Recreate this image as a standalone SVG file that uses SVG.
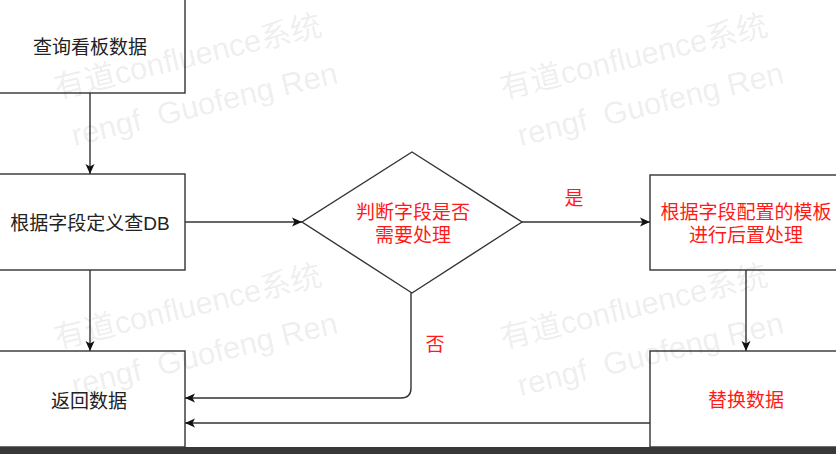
<svg xmlns="http://www.w3.org/2000/svg" width="836" height="454" viewBox="0 0 836 454">
<style>
.box{fill:#fff;stroke:#333;stroke-width:1.4}
.lbl{font-family:"Liberation Sans","Noto Sans CJK SC",sans-serif;font-size:19px;text-anchor:middle;dominant-baseline:central}
.blk{fill:#222}
.red{fill:#ff1a1a}
.edge{fill:none;stroke:#333;stroke-width:1.4}
.wm{font-family:"Liberation Sans","Noto Sans CJK SC",sans-serif;font-size:31px;fill:#000;fill-opacity:0.085;white-space:pre}
</style>
<defs>
<marker id="ah" markerUnits="userSpaceOnUse" markerWidth="12" markerHeight="10" refX="11" refY="5" orient="auto">
<path d="M1,0.5 L11,5 L1,9.5 L3.5,5 Z" fill="#111"/>
</marker>
<g id="wmtile">
<text class="wm" x="0" y="0">有道confluence系统</text>
<text class="wm" x="6" y="50" xml:space="preserve">rengf  Guofeng Ren</text>
</g>
</defs>
<rect width="836" height="454" fill="#fff"/>
<g id="connectors">
<path class="edge" d="M90,93 L90,174" marker-end="url(#ah)"/>
<path class="edge" d="M90,270 L90,351" marker-end="url(#ah)"/>
<path class="edge" d="M185,222 L302,222" marker-end="url(#ah)"/>
<path class="edge" d="M522,222 L650,222" marker-end="url(#ah)"/>
<path class="edge" d="M746,270 L746,351" marker-end="url(#ah)"/>
<path class="edge" d="M411,293 L411,388 Q411,398 401,398 L185,398" marker-end="url(#ah)"/>
<path class="edge" d="M650,423 L185,423" marker-end="url(#ah)"/>
<text class="lbl red" x="574" y="198">是</text>
<text class="lbl red" x="435" y="344">否</text>
</g>
<g id="n1">
<rect class="box" x="-5" y="-3" width="190" height="96"/>
<text class="lbl blk" x="90" y="47">查询看板数据</text>
</g>
<g id="n2">
<rect class="box" x="-5" y="174" width="190" height="96"/>
<text class="lbl blk" x="90" y="223">根据字段定义查DB</text>
</g>
<g id="n3">
<polygon class="box" points="412,152 522,222 412,293 302,222"/>
<text class="lbl red" x="413" y="212">判断字段是否</text>
<text class="lbl red" x="413" y="235">需要处理</text>
</g>
<g id="n4">
<rect class="box" x="650" y="175" width="192" height="95"/>
<text class="lbl red" x="746" y="212">根据字段配置的模板</text>
<text class="lbl red" x="746" y="235">进行后置处理</text>
</g>
<g id="n5">
<rect class="box" x="-5" y="351" width="190" height="96"/>
<text class="lbl blk" x="89" y="401">返回数据</text>
</g>
<g id="n6">
<rect class="box" x="650" y="351" width="192" height="96"/>
<text class="lbl red" x="746" y="400">替换数据</text>
</g>
<g id="watermark">
<use href="#wmtile" transform="translate(57,99) rotate(-13.5)"/>
<use href="#wmtile" transform="translate(503,99) rotate(-13.5)"/>
<use href="#wmtile" transform="translate(57,349) rotate(-13.5)"/>
<use href="#wmtile" transform="translate(503,349) rotate(-13.5)"/>
</g>
<rect x="0" y="447" width="836" height="7" fill="#383838"/>
</svg>
